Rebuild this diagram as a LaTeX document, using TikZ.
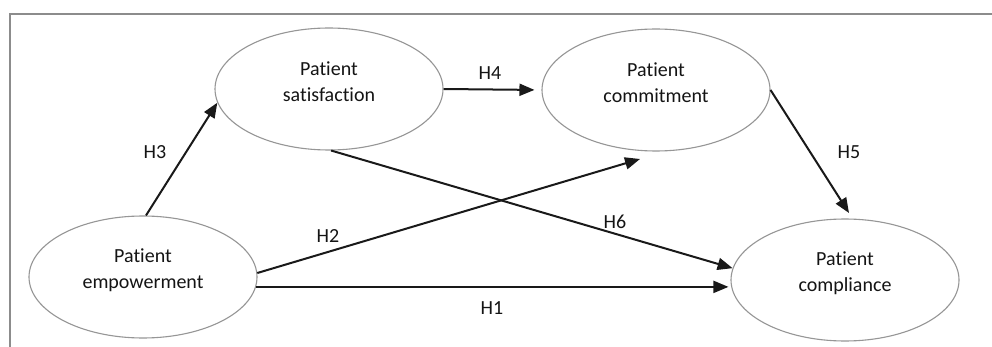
\documentclass[tikz,border=0pt]{standalone}
\usepackage{fontspec}
\setmainfont{Carlito}[Ligatures=NoCommon]
\usetikzlibrary{arrows.meta,shapes.geometric}
\definecolor{ellgray}{RGB}{150,150,150}
\definecolor{framegray}{RGB}{140,140,140}
\definecolor{txt}{RGB}{20,20,20}
\begin{document}
\begin{tikzpicture}[x=1pt,y=-1pt,
  ell/.style={draw=ellgray,line width=1.1pt,ellipse,minimum width=228pt,minimum height=122pt,inner sep=0pt},
  etext/.style={align=center,text=txt,font=\fontsize{20}{26}\selectfont,inner sep=0pt},
  hlab/.style={text=txt,font=\fontsize{20}{24}\selectfont,inner sep=0pt},
  arr/.style={line width=2pt,black!90,-{Triangle[length=15pt,width=12pt]}}]
\useasboundingbox (0,0) rectangle (992,347);
\fill[white] (0,0) rectangle (992,347);
\draw[framegray,line width=1.6pt] (10,347) -- (10,14) -- (992,14);
% ellipses
\node[ell] (sat) at (329,89) {};
\node[ell] (com) at (656,90) {};
\node[ell] (emp) at (143,277) {};
\node[ell] (comp) at (845,280) {};
\node[etext] (satT) at ([yshift=7pt]sat.center) {Patient\\satisfaction};
\node[etext] (comT) at ([yshift=7pt]com.center) {Patient\\commitment};
\node[etext] (empT) at ([yshift=7pt]emp.center) {Patient\\empowerment};
\node[etext] (compT) at ([yshift=7pt]comp.center) {Patient\\compliance};
% free ends
\coordinate (h2end) at (640,159);
\coordinate (h5end) at (849,213);
% arrows
\draw[arr] ([xshift=3pt]emp.north) -- (sat.187);
\draw[arr,shorten >=7pt] (sat.east) -- (com.west);
\draw[arr] (sat.-88) -- (comp.174);
\draw[arr] (emp.2) -- (h2end);
\draw[arr,shorten >=2pt] (emp.-5) -- (emp.-5 -| comp.west);
\draw[arr] (com.east) -- (h5end);
% labels
\node[hlab] (H3) at (155,152) {H3};
\node[hlab] (H4) at (490,73) {H4};
\node[hlab] (H2) at (328,236) {H2};
\node[hlab] (H6) at (615,222) {H6};
\node[hlab] (H1) at (492,308) {H1};
\node[hlab] (H5) at (849,152) {H5};
\end{tikzpicture}
\end{document}
